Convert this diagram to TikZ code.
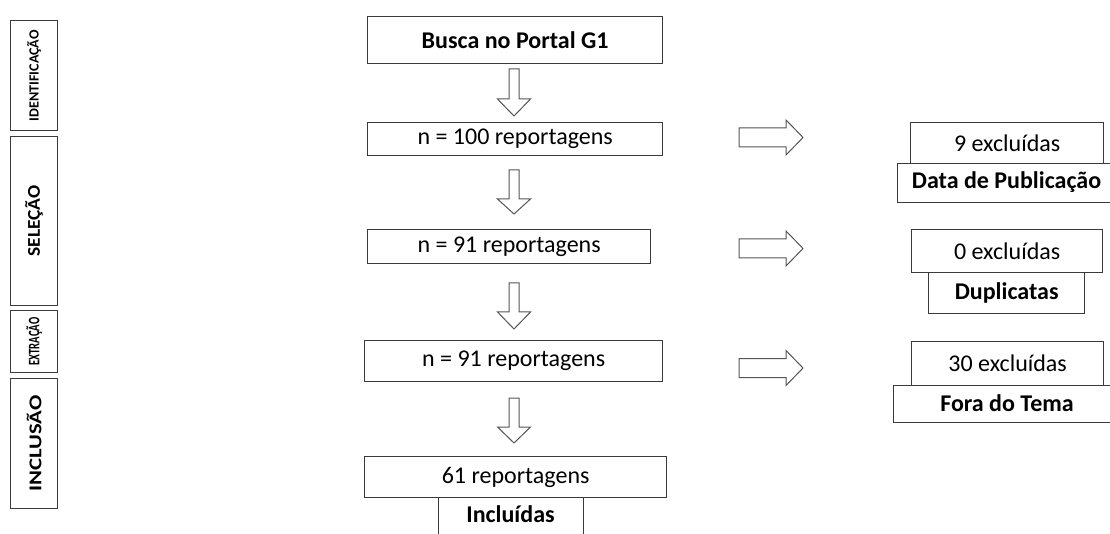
\documentclass[tikz,border=0pt]{standalone}
\usepackage{fontspec}
\setmainfont{Carlito}
\usepackage{graphicx}
\begin{document}
\begin{tikzpicture}[x=1pt,y=-1pt,
  box/.style={draw=boxc, line width=1.3pt, fill=white, inner sep=0pt, anchor=north west},
  maintext/.style={font=\fontsize{24}{28}\selectfont},
  boldtext/.style={font=\fontsize{24}{28}\selectfont\bfseries},
  sidelabel/.style={font=\fontsize{18}{20}\selectfont\bfseries, rotate=90, inner sep=0pt},
  blockarrow/.style={draw=arrc, line width=1pt, fill=white, line join=miter}]
\definecolor{boxc}{HTML}{3A3A3A}
\definecolor{arrc}{HTML}{555555}
\useasboundingbox (0,0) rectangle (1110,534);
\clip (0,0) rectangle (1110,534);

\newcommand{\dnarrow}[4]{%
  \draw[blockarrow] ({#1-5},#2) -- ({#1+5},#2) -- ({#1+5},#3) -- ({#1+16.5},#3) -- (#1,#4) -- ({#1-16.5},#3) -- ({#1-5},#3) -- cycle;}
\newcommand{\rtarrow}[1]{%
  \draw[blockarrow] (739,{#1-9.5}) -- (786,{#1-9.5}) -- (786,{#1-17.5}) -- (803,#1) -- (786,{#1+17.5}) -- (786,{#1+9.5}) -- (739,{#1+9.5}) -- cycle;}

% left phase labels
\node[box, minimum width=47pt, minimum height=110pt] (pid) at (10,20) {};
\node[sidelabel, font=\fontsize{14}{16}\selectfont\bfseries] (tid) at (pid.center) {\resizebox{91pt}{\height}{IDENTIFICAÇÃO}};
\node[box, minimum width=47pt, minimum height=169pt] (psel) at (10,136) {};
\node[sidelabel] (tsel) at (psel.center) {\resizebox{71pt}{\height}{SELEÇÃO}};
\node[box, minimum width=47pt, minimum height=62pt] (pext) at (10,310) {};
\node[sidelabel, font=\fontsize{16}{18}\selectfont\bfseries] (text) at (pext.center) {\resizebox{48pt}{\height}{EXTRAÇÃO}};
\node[box, minimum width=47pt, minimum height=130pt] (pinc) at (10,378) {};
\node[sidelabel] (tinc) at (pinc.center) {\resizebox{96pt}{\height}{INCLUSÃO}};

% central column
\node[box, boldtext, minimum width=295pt, minimum height=47pt] (busca) at (367,16) {Busca no Portal G1};
\node[box, maintext, minimum width=295pt, minimum height=33pt] (n100) at (367,122) {n = 100 reportagens};
\node[box, maintext, minimum width=283pt, minimum height=34pt] (n91a) at (367,229) {n = 91 reportagens};
\node[box, maintext, minimum width=298pt, minimum height=41pt] (n91b) at (364,340) {n = 91 reportagens};
\node[box, minimum width=145pt, minimum height=45pt] (incl) at (438,495) {};
\node[boldtext, inner sep=0pt] (tincl) at (510.5,514) {Incluídas};
\node[box, maintext, minimum width=302pt, minimum height=41pt] (r61) at (364,456) {61 reportagens};

\dnarrow{514}{69}{99}{116}
\dnarrow{514}{170}{199}{214}
\dnarrow{514}{283}{312}{329}
\dnarrow{514}{398}{427}{443}

% right column
\rtarrow{137.5}
\rtarrow{248.5}
\rtarrow{368}

\node[box, maintext, minimum width=193pt, minimum height=41pt] (ex9) at (910,122) {9 excluídas};
\node[box, minimum width=230pt, minimum height=39pt] (pub) at (897,163) {};
\node[boldtext, inner sep=0pt] (tpub) at (1006.5,182.5) {Data de Publicação};

\node[box, maintext, minimum width=191pt, minimum height=43pt] (ex0) at (911,229) {0 excluídas};
\node[box, boldtext, minimum width=156pt, minimum height=41pt] (dup) at (928,272) {Duplicatas};

\node[box, maintext, minimum width=192pt, minimum height=44pt] (ex30) at (911,341) {30 excluídas};
\node[box, minimum width=230pt, minimum height=37pt] (fora) at (893,385) {};
\node[boldtext, inner sep=0pt] (tfora) at (1007,403.5) {Fora do Tema};
\end{tikzpicture}
\end{document}
